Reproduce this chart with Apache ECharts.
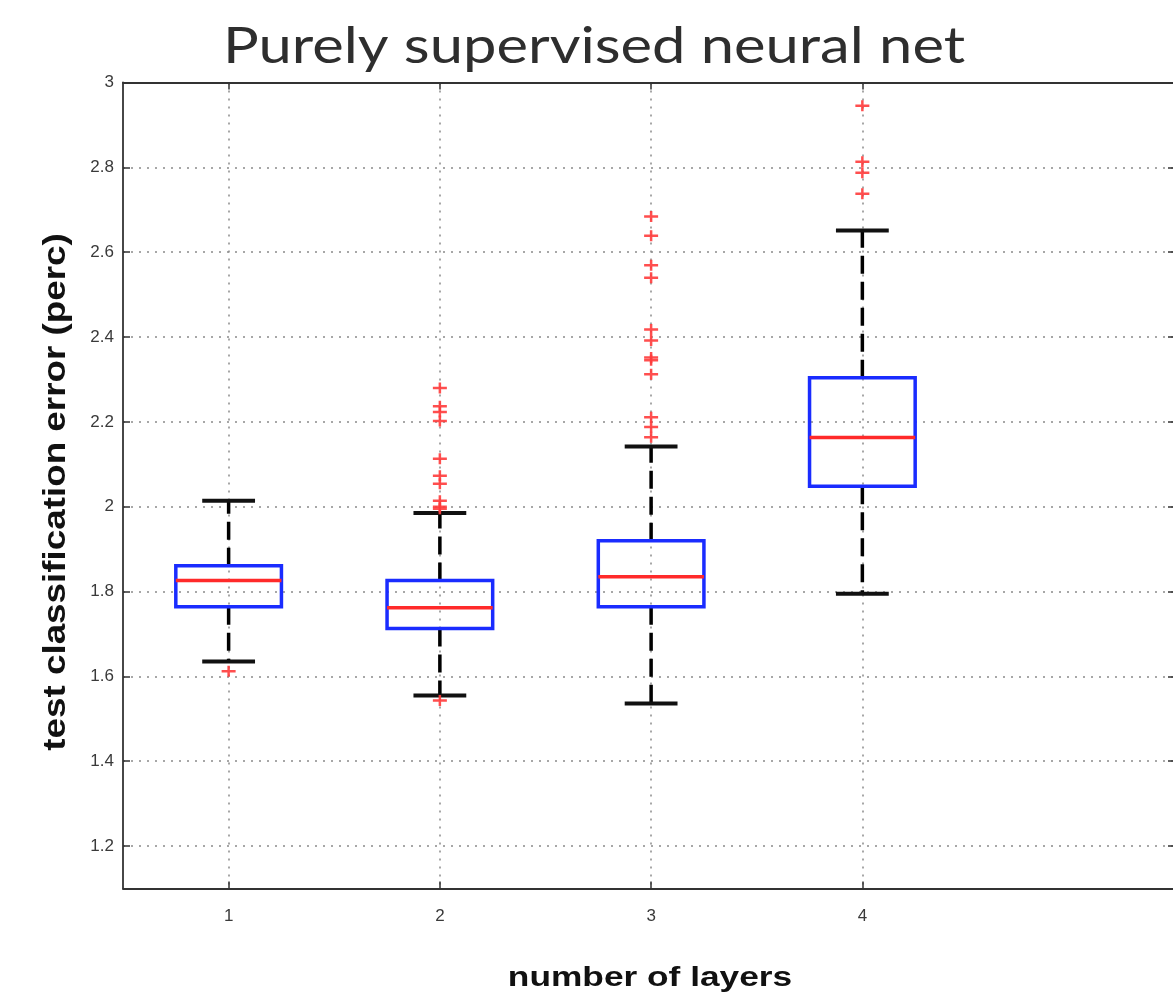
<!DOCTYPE html>
<html>
<head>
<meta charset="utf-8">
<title>Purely supervised neural net</title>
<script src="https://cdn.jsdelivr.net/npm/echarts@6/dist/echarts.min.js"></script>
<style>
  html, body { margin: 0; padding: 0; background: #fff; }
  #chart { width: 1173px; height: 998px; }
</style>
</head>
<body>
<div id="chart"></div>
<script>
// number of layers (x positions of the boxes)
const layers = [1, 2, 3, 4]
const tickValuesY = [1.2, 1.4, 1.6, 1.8, 2, 2.2, 2.4, 2.6, 2.8, 3]

// box statistics
const lowWhisker = [1.635, 1.555, 1.536, 1.795]
const q1 = [1.764, 1.713, 1.764, 2.048]
const median = [1.826, 1.762, 1.835, 2.163]
const q3 = [1.861, 1.826, 1.920, 2.304]
const highWhisker = [2.014, 1.985, 2.142, 2.651]

// outliers (red +) per box
const outliers1 = [1.612]
const outliers2 = [2.280, 2.237, 2.223, 2.202, 2.113, 2.073, 2.054, 2.014, 2.000, 1.995, 1.543]
const outliers3 = [2.684, 2.639, 2.569, 2.540, 2.418, 2.392, 2.352, 2.345, 2.312, 2.211, 2.188, 2.164]
const outliers4 = [2.945, 2.813, 2.787, 2.738]

const boxData = layers.map((x, i) => [x, lowWhisker[i], q1[i], median[i], q3[i], highWhisker[i]])
const outlierData = []
;[outliers1, outliers2, outliers3, outliers4].forEach((list, i) => {
  list.forEach(v => outlierData.push([layers[i], v]))
})

const gridLine = {
  show: true,
  lineStyle: { color: '#8a8a8a', width: 1.5, type: [2, 6] }
}
const axisLine = { show: true, lineStyle: { color: '#333', width: 1.8 } }
const tickFont = { color: '#3a3a3a', fontSize: 17, fontFamily: 'Liberation Sans, Arial, sans-serif' }
const labelFont = 'bold {size}px "Liberation Sans", Arial, sans-serif'

function renderBox (params, api) {
  const x = api.value(0)
  const low = api.coord([x, api.value(1)])
  const bot = api.coord([x, api.value(2)])
  const med = api.coord([x, api.value(3)])
  const top = api.coord([x, api.value(4)])
  const high = api.coord([x, api.value(5)])
  const halfBox = api.size([0.5, 0])[0] / 2
  const halfCap = halfBox / 2
  const cx = med[0]
  const whiskerStyle = { stroke: '#000', lineWidth: 3.5, lineDash: [18, 8] }
  const capStyle = { stroke: '#111', lineWidth: 4 }
  return {
    type: 'group',
    children: [
      { type: 'line', shape: { x1: cx, y1: top[1], x2: cx, y2: high[1] }, style: whiskerStyle },
      { type: 'line', shape: { x1: cx, y1: bot[1], x2: cx, y2: low[1] }, style: whiskerStyle },
      { type: 'line', shape: { x1: cx - halfCap, y1: high[1], x2: cx + halfCap, y2: high[1] }, style: capStyle },
      { type: 'line', shape: { x1: cx - halfCap, y1: low[1], x2: cx + halfCap, y2: low[1] }, style: capStyle },
      {
        type: 'rect',
        shape: { x: cx - halfBox, y: top[1], width: halfBox * 2, height: bot[1] - top[1] },
        style: { fill: 'none', stroke: '#1a2cff', lineWidth: 3.5 }
      },
      { type: 'line', shape: { x1: cx - halfBox, y1: med[1], x2: cx + halfBox, y2: med[1] }, style: { stroke: '#ff2a2a', lineWidth: 3.5 } }
    ]
  }
}

const chart = echarts.init(document.getElementById('chart'), null, { renderer: 'canvas' })
chart.setOption({
  backgroundColor: '#fff',
  animation: false,
  // the source picture is stretched sideways, so the texts are widened a bit
  graphic: [{
    type: 'text',
    x: 594,
    y: 47,
    scaleX: 1.17,
    style: {
      text: 'Purely supervised neural net',
      align: 'center',
      verticalAlign: 'middle',
      fill: '#2e2e2e',
      font: '51px Lato, "Open Sans", sans-serif'
    }
  }, {
    type: 'text',
    x: 650,
    y: 978,
    scaleX: 1.26,
    style: {
      text: 'number of layers',
      align: 'center',
      verticalAlign: 'middle',
      fill: '#111',
      font: labelFont.replace('{size}', 28)
    }
  }, {
    type: 'text',
    x: 56,
    y: 492,
    rotation: Math.PI / 2,
    scaleX: 1.15,
    style: {
      text: 'test classification error (perc)',
      align: 'center',
      verticalAlign: 'middle',
      fill: '#111',
      font: labelFont.replace('{size}', 32)
    }
  }],
  grid: {
    left: 123,
    top: 82.5,
    width: 1052,
    height: 806,
    outerBoundsMode: 'none'
  },
  xAxis: [{
    type: 'value',
    min: 0.5,
    max: 5.48,
    position: 'bottom',
    axisLine: axisLine,
    axisTick: { show: true, inside: true, length: 7, customValues: layers, lineStyle: { color: '#333', width: 1.5 } },
    axisLabel: { ...tickFont, margin: 19, customValues: layers },
    splitLine: gridLine
  }, {
    type: 'value',
    min: 0.5,
    max: 5.48,
    position: 'top',
    axisLine: axisLine,
    axisTick: { show: true, inside: true, length: 7, customValues: layers, lineStyle: { color: '#333', width: 1.5 } },
    axisLabel: { show: false },
    splitLine: { show: false }
  }],
  yAxis: [{
    type: 'value',
    min: 1.1,
    max: 3,
    position: 'left',
    axisLine: axisLine,
    axisTick: { show: true, inside: true, length: 7, customValues: tickValuesY, lineStyle: { color: '#333', width: 1.5 } },
    axisLabel: { ...tickFont, margin: 9, customValues: tickValuesY },
    splitLine: gridLine
  }, {
    type: 'value',
    min: 1.1,
    max: 3,
    position: 'right',
    axisLine: axisLine,
    axisTick: { show: true, inside: true, length: 7, customValues: tickValuesY, lineStyle: { color: '#333', width: 1.5 } },
    axisLabel: { show: false },
    splitLine: { show: false }
  }],
  series: [{
    name: 'box',
    type: 'custom',
    xAxisIndex: 0,
    yAxisIndex: 0,
    renderItem: renderBox,
    encode: { x: 0, y: [1, 2, 3, 4, 5] },
    data: boxData,
    z: 3
  }, {
    name: 'outliers',
    type: 'scatter',
    xAxisIndex: 0,
    yAxisIndex: 0,
    symbol: 'path://M0,4.25 L5.75,4.25 L5.75,0 L8.25,0 L8.25,4.25 L14,4.25 L14,6.75 L8.25,6.75 L8.25,11 L5.75,11 L5.75,6.75 L0,6.75 Z',
    symbolSize: [14, 11],
    itemStyle: { color: '#ff3b3b', opacity: 0.9 },
    data: outlierData,
    z: 4
  }]
})
</script>
</body>
</html>
